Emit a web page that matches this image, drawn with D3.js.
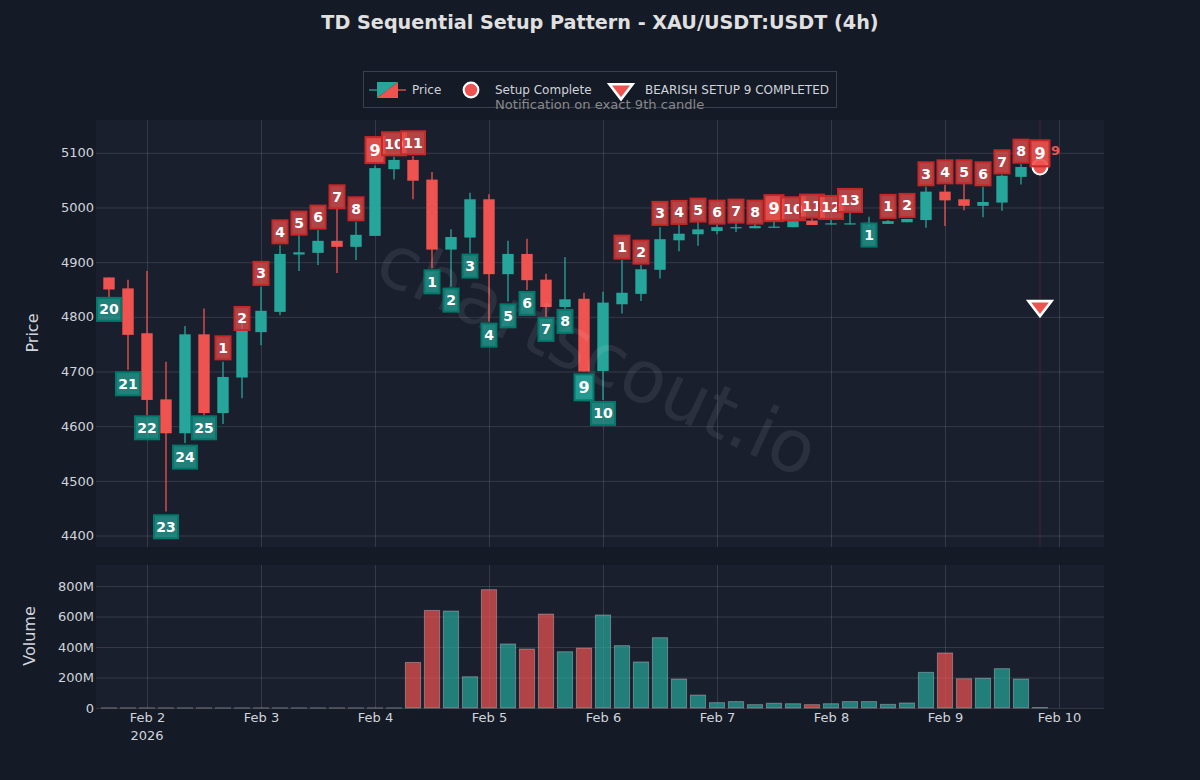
<!DOCTYPE html>
<html><head><meta charset="utf-8">
<script src="https://cdn.jsdelivr.net/npm/d3@7"></script>
<style>html,body{margin:0;padding:0;background:#141a26;overflow:hidden}svg{display:block}text{font-family:"DejaVu Sans",sans-serif}</style>
</head><body><svg id="c" width="1200" height="780"></svg>
<script>
const candleTimes=["2026-02-01T16:00Z","2026-02-01T20:00Z","2026-02-02T00:00Z","2026-02-02T04:00Z","2026-02-02T08:00Z","2026-02-02T12:00Z","2026-02-02T16:00Z","2026-02-02T20:00Z","2026-02-03T00:00Z","2026-02-03T04:00Z","2026-02-03T08:00Z","2026-02-03T12:00Z","2026-02-03T16:00Z","2026-02-03T20:00Z","2026-02-04T00:00Z","2026-02-04T04:00Z","2026-02-04T08:00Z","2026-02-04T12:00Z","2026-02-04T16:00Z","2026-02-04T20:00Z","2026-02-05T00:00Z","2026-02-05T04:00Z","2026-02-05T08:00Z","2026-02-05T12:00Z","2026-02-05T16:00Z","2026-02-05T20:00Z","2026-02-06T00:00Z","2026-02-06T04:00Z","2026-02-06T08:00Z","2026-02-06T12:00Z","2026-02-06T16:00Z","2026-02-06T20:00Z","2026-02-07T00:00Z","2026-02-07T04:00Z","2026-02-07T08:00Z","2026-02-07T12:00Z","2026-02-07T16:00Z","2026-02-07T20:00Z","2026-02-08T00:00Z","2026-02-08T04:00Z","2026-02-08T08:00Z","2026-02-08T12:00Z","2026-02-08T16:00Z","2026-02-08T20:00Z","2026-02-09T00:00Z","2026-02-09T04:00Z","2026-02-09T08:00Z","2026-02-09T12:00Z","2026-02-09T16:00Z","2026-02-09T20:00Z"];
const opens=[4872,4852,4770,4649,4587,4768,4624,4689,4772,4809,4914,4917,4939,4928,4948,5070,5087,5051,4923,4945,5015,4878,4915,4868,4818,4833,4701,4823,4842,4886,4940,4951,4957,4963,4962,4964,4964,4976,4969,4969,4969,4970,4973,4977,5029,5015,5003,5009,5056,5073];
const highs=[4872,4868,4884,4718,4783,4815,4718,4790,4855,4931,4950,4959,4997,4974,5077,5093,5094,5065,4960,5027,5024,4939,4943,4879,4909,4844,4846,4904,4895,4964,4968,4973,4969,4971,4971,4974,4975,4980,4977,4991,4983,4977,4979,5038,5041,5043,5038,5060,5079,5078];
const lows=[4835,4703,4620,4444,4569,4620,4604,4651,4748,4803,4884,4895,4880,4904,4948,5051,5015,4889,4855,4916,4791,4828,4849,4799,4814,4700,4648,4806,4829,4870,4920,4930,4951,4955,4962,4964,4964,4968,4969,4969,4965,4970,4973,4963,4966,4995,4982,4994,5042,5070];
const closes=[4850,4767,4648,4587,4768,4624,4690,4775,4811,4915,4918,4939,4928,4950,5072,5087,5049,4923,4946,5015,4878,4915,4867,4818,4832,4700,4826,4844,4887,4942,4952,4960,4964,4964,4966,4965,4975,4968,4971,4971,4972,4975,4979,5029,5013,5003,5010,5058,5074,5074];
const volumes=[0.6e6,0.6e6,0.6e6,0.6e6,0.6e6,0.6e6,0.6e6,0.6e6,0.6e6,0.6e6,0.6e6,0.6e6,0.6e6,0.6e6,0.6e6,0.6e6,299e6,640e6,636e6,205e6,776e6,420e6,387e6,616e6,369e6,393e6,610e6,409e6,302e6,461e6,190e6,85e6,35e6,42e6,22e6,31e6,28e6,22e6,28e6,42e6,42e6,24e6,33e6,234e6,361e6,192e6,195e6,258e6,190e6,3e6];
const setupLabels=["20","21","22","23","24","25","1","2","3","4","5","6","7","8","9","10","11","1","2","3","4","5","6","7","8","9","10","1","2","3","4","5","6","7","8","9","10","11","12","13","1","1","2","3","4","5","6","7","8","9"];
const setupKinds=["b","b","b","b","b","b","s","s","s","s","s","s","s","s","s","s","s","b","b","b","b","b","b","b","b","b","b","s","s","s","s","s","s","s","s","s","s","s","s","s","b","s","s","s","s","s","s","s","s","s"];
const setupPrices=[4813.6,4677.5,4597,4416,4543.4,4597,4743.3,4797,4879.4,4955.5,4971.4,4982.4,5019.5,4997.6,5105,5116.5,5118.3,4864,4830.6,4892.8,4766.5,4801.8,4824.5,4777,4791.6,4671,4623.3,4927.5,4918.4,4989.2,4991,4995.2,4991.5,4993.4,4991.5,4998.8,4997.6,5002.5,5000.1,5012.9,4949.5,5002,5003.8,5061.6,5065.2,5065.2,5061.6,5083.5,5103,5099];
const completed=[14,25,35,49];
const priceTicks=[4400,4500,4600,4700,4800,4900,5000,5100];
const volumeTicks=[0,200e6,400e6,600e6,800e6];
const volumeTickLabels=["0","200M","400M","600M","800M"];
const dayTicks=["2026-02-02","2026-02-03","2026-02-04","2026-02-05","2026-02-06","2026-02-07","2026-02-08","2026-02-09","2026-02-10"];
const dayTickLabels=["Feb 2","Feb 3","Feb 4","Feb 5","Feb 6","Feb 7","Feb 8","Feb 9","Feb 10"];
const titleText="TD Sequential Setup Pattern - XAU/USDT:USDT (4h)";
const signalTime="2026-02-09T20:00Z", signalCirclePrice=5074, signalTrianglePrice=4819.6;

const UP="#26a69a",DOWN="#ef5350",PAGE="#141a26";
const svg=d3.select("#c");
const L=96,R=1104,PT=120,PB=547,VT=565,VB=708;
const x=d3.scaleUtc().domain([new Date(Date.UTC(2026,1,2)-51/114*864e5),new Date(Date.UTC(2026,1,10)+45/114*864e5)]).range([L,R]);
const y=d3.scaleLinear().domain([4379,5160]).range([PB,PT]);
const v=d3.scaleLinear().domain([0,938e6]).range([VB,VT]);
const times=candleTimes.map(d=>new Date(d));
const days=dayTicks.map(d=>new Date(d+"T00:00Z"));
const tri={draw(ctx,size){const r=Math.sqrt(size),t=r*2/Math.sqrt(3);ctx.moveTo(-t,-r/2);ctx.lineTo(t,-r/2);ctx.lineTo(0,r);ctx.closePath();}};
svg.append("rect").attr("width",1200).attr("height",780).attr("fill",PAGE);
svg.append("rect").attr("x",L).attr("y",PT).attr("width",R-L).attr("height",PB-PT).attr("fill","#1a1f2e");
svg.append("rect").attr("x",L).attr("y",VT).attr("width",R-L).attr("height",VB-VT).attr("fill","#1a1f2e");
svg.append("text").attr("x",600).attr("y",29).attr("text-anchor","middle").attr("font-size",19.2).attr("font-weight","bold").attr("fill","#e0e0e0").text(titleText);

function styleAxis(g){g.select(".domain").remove();g.selectAll("line").attr("stroke","rgba(255,255,255,0.12)").attr("stroke-width",1);g.selectAll("text").attr("fill","#d1d4dc").attr("font-size",13).attr("font-family","DejaVu Sans");}
svg.append("g").attr("transform",`translate(${L},0)`).call(d3.axisLeft(y).tickValues(priceTicks).tickSize(-(R-L)).tickPadding(2).tickFormat(d3.format("d"))).call(styleAxis);
svg.append("g").attr("transform",`translate(${L},0)`).call(d3.axisLeft(v).tickValues(volumeTicks).tickSize(-(R-L)).tickPadding(2).tickFormat((d,i)=>volumeTickLabels[i])).call(styleAxis);
svg.append("g").attr("transform",`translate(0,${PB})`).call(d3.axisBottom(x).tickValues(days).tickSize(-(PB-PT)).tickFormat("")).call(styleAxis);
const xb=svg.append("g").attr("transform",`translate(0,${VB})`).call(d3.axisBottom(x).tickValues(days).tickSize(-(VB-VT)).tickPadding(5).tickFormat((d,i)=>dayTickLabels[i])).call(styleAxis);
xb.append("text").attr("x",x(days[0])).attr("y",32).attr("text-anchor","middle").attr("fill","#d1d4dc").attr("font-size",13).text("2026");

svg.append("text").attr("transform","translate(38,333) rotate(-90)").attr("text-anchor","middle").attr("font-size",16).attr("fill","#d1d4dc").text("Price");
svg.append("text").attr("transform","translate(35,636) rotate(-90)").attr("text-anchor","middle").attr("font-size",16).attr("fill","#d1d4dc").text("Volume");

const col=i=>closes[i]>=opens[i]?UP:DOWN;
const cg=svg.append("g");
cg.selectAll("line").data(times).join("line").attr("x1",d=>x(d)).attr("x2",d=>x(d)).attr("y1",(d,i)=>y(highs[i])).attr("y2",(d,i)=>y(lows[i])).attr("stroke",(d,i)=>col(i)).attr("stroke-width",1.3);
cg.selectAll("rect").data(times).join("rect").attr("x",d=>x(d)-5.7).attr("width",11.4).attr("y",(d,i)=>y(Math.max(opens[i],closes[i]))).attr("height",(d,i)=>Math.max(1.2,Math.abs(y(opens[i])-y(closes[i])))).attr("fill",(d,i)=>col(i));
svg.append("g").selectAll("rect").data(times).join("rect").attr("x",d=>x(d)-7.6).attr("width",15.2).attr("y",(d,i)=>v(volumes[i])).attr("height",(d,i)=>VB-v(volumes[i])).attr("fill",(d,i)=>col(i)).attr("fill-opacity",0.7).attr("stroke","rgba(255,255,255,0.3)").attr("stroke-width",1);
svg.append("text").attr("transform","translate(598,355) rotate(25)").attr("text-anchor","middle").attr("dominant-baseline","central").attr("font-size",73).attr("fill","#ffffff").attr("fill-opacity",0.08).text("chartscout.io");
const sx=x(new Date(signalTime));
svg.append("line").attr("x1",sx).attr("x2",sx).attr("y1",PT).attr("y2",PB).attr("stroke",DOWN).attr("stroke-opacity",0.18).attr("stroke-width",1);
svg.append("circle").attr("cx",sx).attr("cy",y(signalCirclePrice)).attr("r",7.5).attr("fill",DOWN).attr("stroke","#fff").attr("stroke-width",2);
const lg=svg.append("g");
setupLabels.forEach((t,i)=>{
  const major=completed.includes(i),cx=x(times[i]),cy=y(setupPrices[i]);
  const fs=major?16:14,w=(t.length>1?24:15)+(major?4:0),h=major?26:23;
  const s=setupKinds[i]==="s";
  lg.append("rect").attr("x",cx-w/2).attr("y",cy-h/2).attr("width",w).attr("height",h)
    .attr("fill",s?DOWN:UP).attr("fill-opacity",major?0.9:0.72).attr("stroke",s?"#c62828":"#00796b").attr("stroke-width",2);
  lg.append("text").attr("x",cx).attr("y",cy).attr("text-anchor","middle").attr("dominant-baseline","central").attr("font-size",fs).attr("font-weight","bold").attr("fill","#fff").text(t);
});
svg.append("text").attr("x",sx+11).attr("y",y(5105)).attr("dominant-baseline","central").attr("font-size",13).attr("font-weight","bold").attr("fill",DOWN).text("9");
svg.append("path").attr("transform",`translate(${sx},${y(signalTrianglePrice)})`).attr("d",d3.symbol(tri,100)()).attr("fill",DOWN).attr("stroke","#fff").attr("stroke-width",2.6);
const lgd=svg.append("g");
lgd.append("rect").attr("x",363.5).attr("y",71.5).attr("width",473).attr("height",36).attr("fill",PAGE).attr("stroke","#3a4050").attr("stroke-width",1);
lgd.append("line").attr("x1",369).attr("x2",388).attr("y1",90).attr("y2",90).attr("stroke",UP).attr("stroke-width",1.3);
lgd.append("line").attr("x1",388).attr("x2",406).attr("y1",90).attr("y2",90).attr("stroke",DOWN).attr("stroke-width",1.3);
const iconArea=d3.line();
lgd.append("path").attr("d",iconArea([[377,82],[398,82],[377,98]])+"Z").attr("fill",UP);
lgd.append("path").attr("d",iconArea([[398,82],[398,98],[377,98]])+"Z").attr("fill",DOWN);
lgd.append("circle").attr("cx",471).attr("cy",90).attr("r",7.3).attr("fill",DOWN).attr("stroke","#fff").attr("stroke-width",2.2);
lgd.append("path").attr("transform","translate(621,89.3)").attr("d",d3.symbol(tri,100)()).attr("fill",DOWN).attr("stroke","#fff").attr("stroke-width",2.6);
[["Price",412],["Setup Complete",495],["BEARISH SETUP 9 COMPLETED",645]].forEach(([t,tx])=>lgd.append("text").attr("x",tx).attr("y",90).attr("dominant-baseline","central").attr("font-size",12).attr("fill","#d1d4dc").text(t));
lgd.append("text").attr("x",495).attr("y",104).attr("dominant-baseline","central").attr("font-size",13.1).attr("fill","#888").text("Notification on exact 9th candle");
</script></body></html>
